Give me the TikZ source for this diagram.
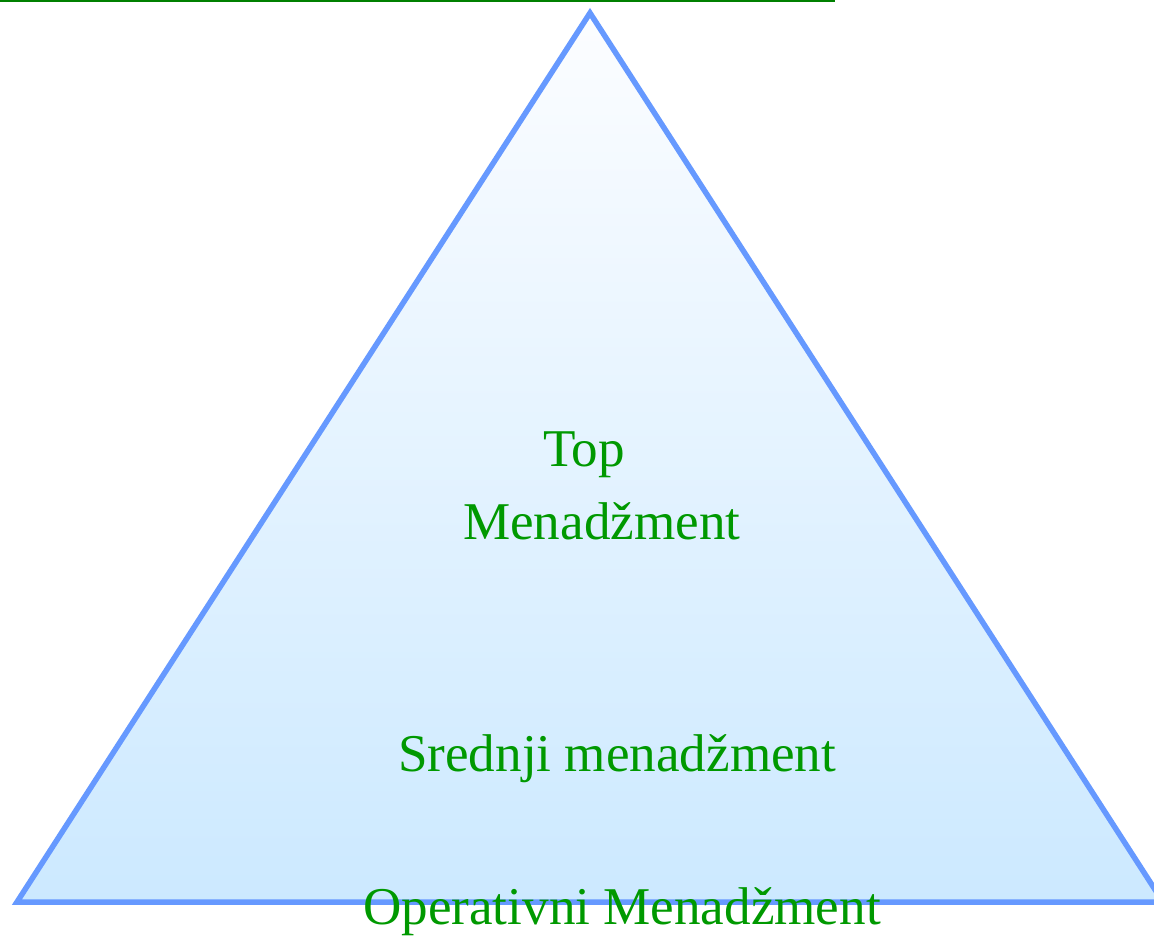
\documentclass[tikz,border=0pt]{standalone}
\usepackage{fontspec}
\setmainfont{Liberation Serif}
\definecolor{lbl}{RGB}{0,153,0}
\definecolor{edge}{RGB}{102,153,255}
\definecolor{topline}{RGB}{0,128,0}
\definecolor{fillbot}{RGB}{204,233,255}
\definecolor{filltop}{RGB}{252,253,255}
\begin{document}
\begin{tikzpicture}[x=1pt,y=-1pt,
  lev/.style={anchor=base west,inner sep=0pt,text=lbl,font=\fontsize{53.1}{60}\selectfont}]
\useasboundingbox (0,0) rectangle (1154,936);
\fill[white] (0,0) rectangle (1154,936);
\coordinate (apex) at (590,13);
\coordinate (bl) at (17,902);
\coordinate (br) at (1163,902);
\path[draw=edge,line width=5.5pt,miter limit=10,top color=filltop,bottom color=fillbot] (apex) -- (br) -- (bl) -- cycle;
\coordinate (l0) at (0,0.8);
\coordinate (l1) at (835,0.8);
\draw[topline,line width=2pt] (l0) -- (l1);
\node[lev] (top) at (543,466) {Top};
\node[lev] (topm) at (463,539) {Menadžment};
\node[lev] (mid) at (398,771) {Srednji menadžment};
\node[lev] (op) at (363,924) {Operativni Menadžment};
\end{tikzpicture}
\end{document}
